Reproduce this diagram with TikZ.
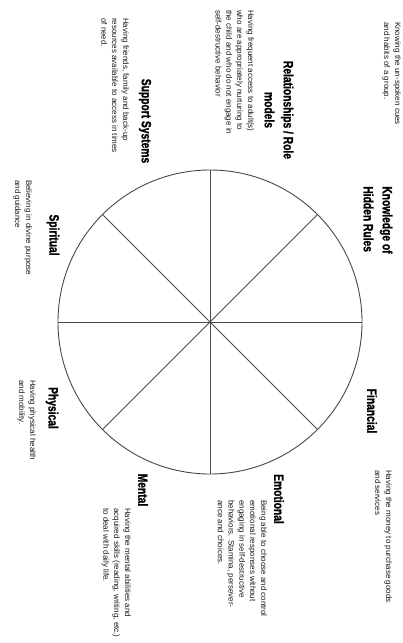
\documentclass[tikz,border=0pt]{standalone}
\usepackage{fontspec}
\setmainfont{Liberation Sans}
\newfontfamily\headfont{Liberation Sans}[FakeStretch=0.76, FakeBold=1.2]
\usetikzlibrary{positioning}

\begin{document}
\begin{tikzpicture}[x=1pt, y=1pt,
  wheel/.style={circle, draw=black!72, line width=.9pt, minimum size=304pt,
    inner sep=0pt, outer sep=0pt},
  spoke/.style={draw=black!70, line width=.8pt},
  head/.style={rotate=-90, inner sep=0pt,
    font=\headfont\bfseries\fontsize{13.5}{19}\selectfont},
  note/.style={rotate=-90, anchor=north west, align=left, inner sep=0pt,
    text=black!90, font=\fontsize{8}{10.8}\selectfont}
]
\useasboundingbox (0,0) rectangle (403,-643);

\node[wheel] (w) at (210,-322) {};
\foreach \a in {0,45,...,315}
  \draw[spoke] (w.center) -- (w.\a);

\node[head, align=center] (rel) at (279,-110) {Relationships / Role\\models};
\node[head, align=left] (know) at (378,-220) {Knowledge of\\Hidden Rules};
\node[head] (fin) at (372,-411) {Financial};
\node[head] (emo) at (279,-499) {Emotional};
\node[head] (men) at (143,-490) {Mental};
\node[head] (phy) at (52,-408) {Physical};
\node[head] (spi) at (53,-235) {Spiritual};
\node[head] (sup) at (145,-121) {Support Systems};

\node[note] (know-t) at (401,-22)
  {Knowing the un-spoken cues\\and habits of a group.};
\node[note] (rel-t) at (254,-10)
  {Having frequent access to adult(s)\\who are appropriately nurturing to\\the child and who do not engage in\\self-destructive behavior};
\node[note] (sup-t) at (129,-18)
  {Having friends, family and back-up\\resources available to access in times\\of need.};
\node[note] (spi-t) at (32,-180)
  {Believing in divine purpose\\and guidance};
\node[note] (phy-t) at (36,-380)
  {Having physical health\\and mobility.};
\node[note] (men-t) at (131,-508)
  {Having the mental abilities and\\acquired skills (reading, writing, etc.)\\to deal with daily life.};
\node[note] (emo-t) at (267,-500)
  {Being able to choose and control\\emotional responses without\\engaging in self-destructive\\behaviors. Stamina, persever-\\ance and choices.};
\node[note] (fin-t) at (392,-470)
  {Having the money to purchase goods\\and services};
\end{tikzpicture}
\end{document}
